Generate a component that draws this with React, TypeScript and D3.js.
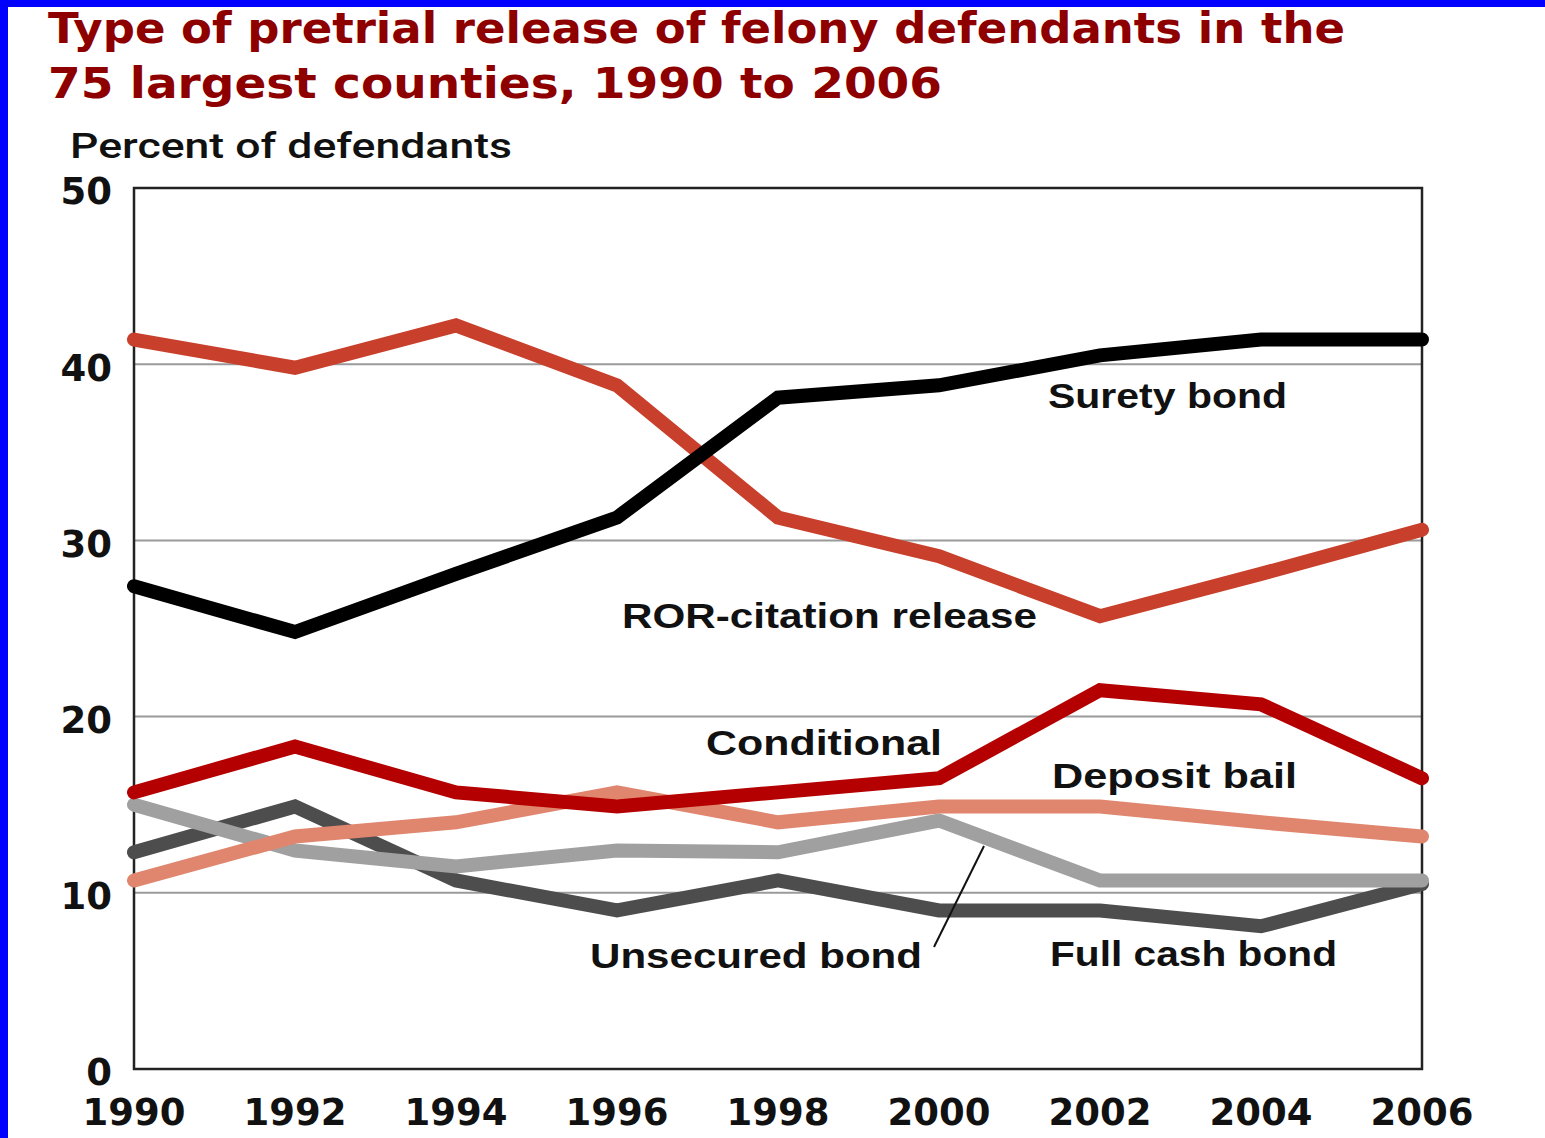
import * as d3 from "d3";

const years = [1990, 1992, 1994, 1996, 1998, 2000, 2002, 2004, 2006];
const yTicks = [0, 10, 20, 30, 40, 50];

// drawn back to front
const fullCash = [12.3, 14.9, 10.7, 9.0, 10.7, 9.0, 9.0, 8.1, 10.5];
const unsecured = [15.0, 12.4, 11.5, 12.4, 12.3, 14.1, 10.7, 10.7, 10.7];
const depositBail = [10.7, 13.2, 14.0, 15.7, 14.0, 14.9, 14.9, 14.0, 13.2];
const conditional = [15.7, 18.3, 15.7, 14.9, 15.7, 16.5, 21.5, 20.7, 16.5];
const rorCitation = [41.4, 39.8, 42.2, 38.8, 31.3, 29.1, 25.7, 28.1, 30.6];
const surety = [27.4, 24.8, 28.1, 31.3, 38.1, 38.8, 40.5, 41.4, 41.4];

const seriesNames = ["Full cash bond", "Unsecured bond", "Deposit bail", "Conditional", "ROR-citation release", "Surety bond"];
const seriesValues = [fullCash, unsecured, depositBail, conditional, rorCitation, surety];
const seriesColors = ["#4d4d4d", "#a0a0a0", "#e0866e", "#b40000", "#c8402c", "#000000"];

const titleLines = ["Type of pretrial release of felony defendants in the", "75 largest counties, 1990 to 2006"];

// label placement (pixels): x, baseline y, width
const labelPos: Record<string, [number, number, number]> = {
  "Surety bond": [1048, 408, 239],
  "ROR-citation release": [622, 628, 415],
  "Conditional": [706, 755, 236],
  "Deposit bail": [1052, 788, 245],
  "Unsecured bond": [590, 968, 332],
  "Full cash bond": [1050, 966, 287],
};

const W = 1545;
const H = 1138;
const plot = { left: 134, right: 1422, top: 188, bottom: 1069 };

export default function App() {
  const x = d3.scaleLinear().domain([1990, 2006]).range([plot.left, plot.right]);
  const y = d3.scaleLinear().domain([0, 50]).range([plot.bottom, plot.top]);

  const line = d3
    .line<number>()
    .x((_, i) => x(years[i]))
    .y((d) => y(d));

  const tickFont = "'DejaVu Sans', Verdana, sans-serif";
  const labelFont = "'Liberation Sans', Arial, sans-serif";

  return (
    <div style={{ position: "fixed", left: 0, top: 0, width: W, height: H, background: "#fff" }}>
      <svg width={W} height={H} style={{ display: "block" }}>
        <rect x={0} y={0} width={W} height={H} fill="#fff" />
        <rect x={0} y={0} width={8} height={H} fill="#0000ff" />
        <rect x={0} y={0} width={W} height={7} fill="#0000ff" />

        {titleLines.map((t, i) => (
          <text
            key={t}
            x={48}
            y={43 + i * 55}
            fill="#8e0000"
            fontFamily={tickFont}
            fontWeight="bold"
            fontSize={42}
            textLength={i === 0 ? 1297 : 894}
            lengthAdjust="spacingAndGlyphs"
          >
            {t}
          </text>
        ))}

        <text
          x={70}
          y={158}
          fontFamily="Roboto, 'Liberation Sans', sans-serif"
          fontWeight={500}
          fontSize={35}
          fill="#111"
          textLength={442}
          lengthAdjust="spacingAndGlyphs"
        >
          Percent of defendants
        </text>

        {/* gridlines */}
        {yTicks.filter((t) => t > 0 && t < 50).map((t) => (
          <line key={t} x1={plot.left} x2={plot.right} y1={y(t)} y2={y(t)} stroke="#9a9a9a" strokeWidth={2} />
        ))}

        {/* frame */}
        <rect
          x={plot.left}
          y={plot.top}
          width={plot.right - plot.left}
          height={plot.bottom - plot.top}
          fill="none"
          stroke="#222"
          strokeWidth={2.5}
        />

        {/* y tick labels */}
        {yTicks.map((t) => (
          <text
            key={t}
            x={112}
            y={y(t) + 3}
            dy="0.36em"
            textAnchor="end"
            fontFamily={tickFont}
            fontWeight="bold"
            fontSize={37}
            fill="#111"
          >
            {t}
          </text>
        ))}

        {/* x tick labels */}
        {years.map((yr) => (
          <text
            key={yr}
            x={x(yr)}
            y={1125}
            textAnchor="middle"
            fontFamily={tickFont}
            fontWeight="bold"
            fontSize={37}
            fill="#111"
          >
            {yr}
          </text>
        ))}

        {/* series lines */}
        {seriesValues.map((vals, i) => (
          <path
            key={seriesNames[i]}
            d={line(vals) ?? ""}
            fill="none"
            stroke={seriesColors[i]}
            strokeWidth={14}
            strokeLinejoin="miter"
            strokeLinecap="round"
          />
        ))}

        {/* leader line for unsecured bond */}
        <line x1={934} y1={947} x2={984} y2={846} stroke="#111" strokeWidth={2} />

        {/* series labels */}
        {seriesNames.map((name) => {
          const [lx, ly, lw] = labelPos[name];
          return (
            <text
              key={name}
              x={lx}
              y={ly}
              fontFamily={labelFont}
              fontWeight="bold"
              fontSize={35}
              fill="#111"
              textLength={lw}
              lengthAdjust="spacingAndGlyphs"
            >
              {name}
            </text>
          );
        })}
      </svg>
    </div>
  );
}
